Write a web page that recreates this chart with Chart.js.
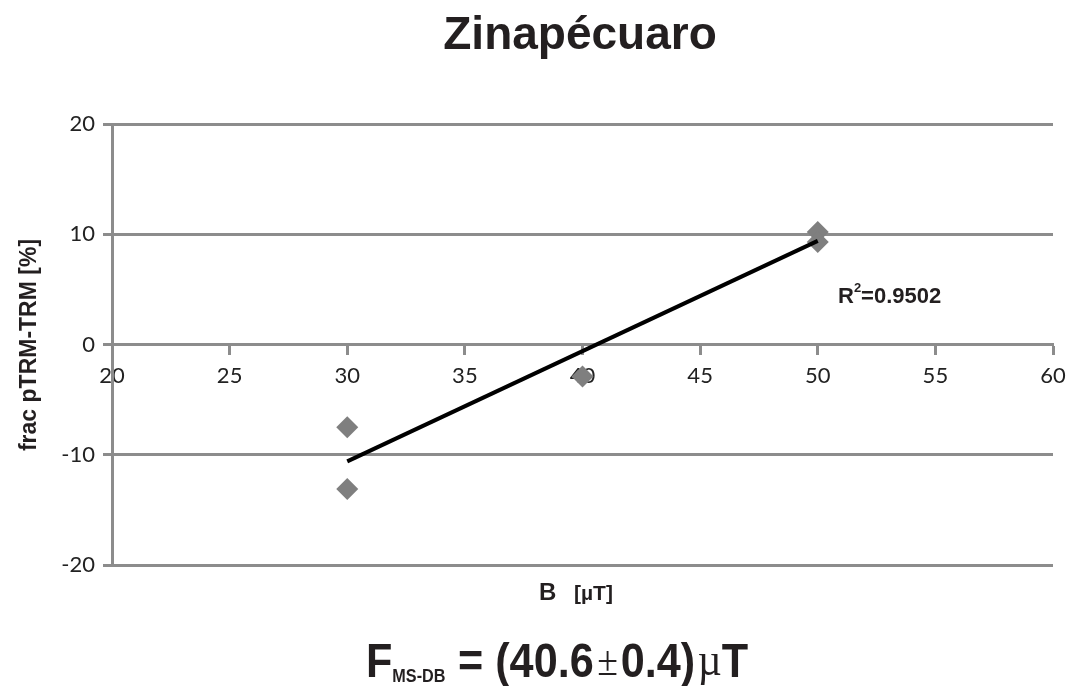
<!DOCTYPE html>
<html>
<head>
<meta charset="utf-8">
<script src="https://cdn.jsdelivr.net/npm/chart.js@4/dist/chart.umd.min.js"></script>
<style>
  html, body { margin: 0; padding: 0; background: #fff; }
  #wrap { width: 1075px; height: 686px; position: relative; }
</style>
</head>
<body>
<div id="wrap"><canvas id="fracChart"></canvas></div>
<script>
// values
const fieldB = [30, 30, 40, 50, 50];
const fracValues = [-7.5, -13.1, -2.9, 10.2, 9.3];
const trendB = [30, 50];
const trendValues = [-10.6, 9.4];
const xTicks = [20, 25, 30, 35, 40, 45, 50, 55, 60];
const yTicks = [-20, -10, 0, 10, 20];

const chartTitle = 'Zinapécuaro';
const yTitle = 'frac pTRM-TRM [%]';
const r2Text = '0.9502';
const fieldValue = '40.6';
const fieldError = '0.4';

const axisGray = '#8c8c8c';
const markerGray = '#7f7f7f';
const sans = '"Liberation Sans", Arial, sans-serif';
const serif = '"Liberation Serif", "Times New Roman", serif';

// titles and annotations drawn straight onto the canvas
const textPlugin = {
    id: 'texts',
    afterDraw(chart) {
        const ctx = chart.ctx;
        ctx.save();
        ctx.fillStyle = '#231f20';
        ctx.textBaseline = 'alphabetic';

        ctx.font = 'bold 46px ' + sans;
        ctx.textAlign = 'center';
        ctx.fillText(chartTitle, 580, 49);

        ctx.save();
        ctx.translate(36, 345);
        ctx.rotate(-Math.PI / 2);
        ctx.font = 'bold 23px ' + sans;
        ctx.fillText(yTitle, 0, 0);
        ctx.restore();

        ctx.textAlign = 'left';

        // x axis title
        ctx.font = 'bold 24px ' + sans;
        ctx.fillText('B', 539, 600);
        ctx.font = 'bold 21px ' + sans;
        ctx.fillText('[µT]', 574, 600);

        // R² label
        ctx.font = 'bold 22px ' + sans;
        let x = 838;
        ctx.fillText('R', x, 303);
        x += ctx.measureText('R').width;
        ctx.font = 'bold 13px ' + sans;
        ctx.fillText('2', x, 292);
        x += ctx.measureText('2').width;
        ctx.font = 'bold 22px ' + sans;
        ctx.fillText('=' + r2Text, x, 303);

        // formula at the bottom, in a narrow bold face
        const parts = [
            { t: 'F', f: 'bold 48px ' + sans, dy: 0, gap: 0 },
            { t: 'MS-DB', f: 'bold 18px ' + sans, dy: 5, gap: 14 },
            { t: '= (' + fieldValue, f: 'bold 48px ' + sans, dy: 0, gap: 4 },
            { t: '±', f: '42px ' + serif, dy: -2, gap: 3 },
            { t: fieldError + ')', f: 'bold 48px ' + sans, dy: 0, gap: 3 },
            { t: 'µ', f: '46px ' + serif, dy: -2, gap: 0 },
            { t: 'T', f: 'bold 48px ' + sans, dy: 0, gap: 0 }
        ];
        let total = 0;
        parts.forEach(p => { ctx.font = p.f; p.w = ctx.measureText(p.t).width; total += p.w + p.gap; });
        const sx = 382 / total;
        ctx.save();
        ctx.translate(366, 677);
        ctx.scale(sx, 1);
        x = 0;
        parts.forEach(p => {
            ctx.font = p.f;
            ctx.fillText(p.t, x, p.dy);
            x += p.w + p.gap;
        });
        ctx.restore();
        ctx.restore();
    }
};

new Chart(document.getElementById('fracChart'), {
    type: 'scatter',
    data: {
        datasets: [{
            label: 'Trend',
            type: 'line',
            data: trendB.map((b, i) => ({ x: b, y: trendValues[i] })),
            borderColor: '#000',
            borderWidth: 4,
            pointRadius: 0,
            fill: false,
            order: 1
        }, {
            label: 'frac pTRM-TRM',
            data: fieldB.map((b, i) => ({ x: b, y: fracValues[i] })),
            pointStyle: 'rectRot',
            pointRadius: 11,
            pointBackgroundColor: markerGray,
            pointBorderColor: markerGray,
            pointBorderWidth: 0,
            order: 2
        }]
    },
    options: {
        responsive: true,
        maintainAspectRatio: false,
        animation: false,
        layout: { padding: { top: 124, bottom: 121, left: 0, right: 22 } },
        plugins: {
            legend: { display: false },
            tooltip: { enabled: false }
        },
        scales: {
            x: {
                type: 'linear',
                position: { y: 0 },
                min: 20,
                max: 60,
                afterBuildTicks: (axis) => { axis.ticks = xTicks.map(v => ({ value: v })); },
                ticks: {
                    color: '#222',
                    font: { family: 'Lato, "Open Sans", sans-serif', size: 22 },
                    padding: 9,
                    maxRotation: 0
                },
                grid: {
                    drawOnChartArea: false,
                    drawTicks: true,
                    tickLength: 9,
                    tickWidth: 3,
                    color: axisGray
                },
                border: { color: axisGray, width: 3 }
            },
            y: {
                min: -20,
                max: 20,
                afterBuildTicks: (axis) => { axis.ticks = yTicks.map(v => ({ value: v })); },
                afterFit: (axis) => { axis.width = 112; },
                ticks: {
                    color: '#222',
                    font: { family: 'Lato, "Open Sans", sans-serif', size: 22 },
                    padding: 8
                },
                grid: {
                    color: axisGray,
                    lineWidth: 3,
                    tickLength: 9,
                    tickWidth: 3
                },
                border: { color: axisGray, width: 3 }
            }
        }
    },
    plugins: [textPlugin]
});
</script>
</body>
</html>
